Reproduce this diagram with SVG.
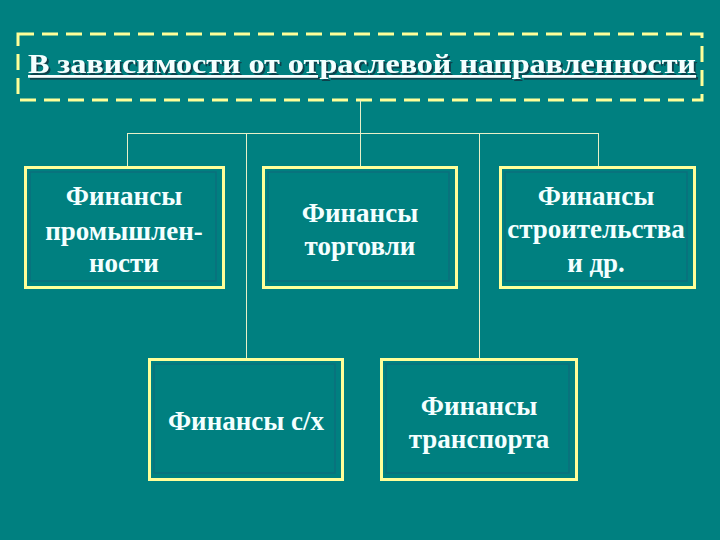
<svg xmlns="http://www.w3.org/2000/svg" width="720" height="540" viewBox="0 0 720 540">
<defs>
<filter id="shadow" x="-5%" y="-30%" width="110%" height="160%">
<feDropShadow dx="2" dy="2" stdDeviation="0.5" flood-color="#0a3a45" flood-opacity="0.9"/>
</filter>
</defs>
<style>
.bg{fill:#008080}
.box{fill:#008080;stroke:#FFFF99;stroke-width:3}
.inner{fill:none;stroke:#0b6f7c;stroke-width:1.5}
.t{font-family:"Liberation Serif","Times New Roman",serif;font-weight:bold;font-size:27px;fill:#F4FFFF;text-anchor:middle}
.ln{stroke:#E8F0C8;stroke-width:1;fill:none}
</style>
<rect class="bg" x="0" y="0" width="720" height="540"/>
<g id="title">
<rect x="18" y="34" width="684" height="66" fill="none" stroke="#FFFF99" stroke-width="3" stroke-dasharray="16,8"/>
<text x="362" y="73" class="t" font-size="29" textLength="668" lengthAdjust="spacingAndGlyphs" text-decoration="underline" filter="url(#shadow)">В зависимости от отраслевой направленности</text>
</g>
<g id="connectors">
<path class="ln" d="M360.5 100V167 M127.5 133.5H598.5 M127.5 133V167 M598.5 133V167 M246.5 133V359 M479.5 133V359"/>
</g>
<g id="n1">
<rect class="box" x="25.5" y="167.5" width="198" height="120"/>
<rect class="inner" x="30" y="172" width="186" height="109"/>
<text class="t" x="124" y="205">Финансы</text>
<text class="t" x="124" y="240">промышлен-</text>
<text class="t" x="124" y="272">ности</text>
</g>
<g id="n2">
<rect class="box" x="263.5" y="167.5" width="193" height="120"/>
<rect class="inner" x="268" y="172" width="181" height="109"/>
<text class="t" x="360" y="222">Финансы</text>
<text class="t" x="360" y="255">торговли</text>
</g>
<g id="n3">
<rect class="box" x="500.5" y="167.5" width="194" height="120"/>
<rect class="inner" x="505" y="172" width="182" height="109"/>
<text class="t" x="596" y="205">Финансы</text>
<text class="t" x="596" y="238">строительства</text>
<text class="t" x="596" y="272">и др.</text>
</g>
<g id="n4">
<rect class="box" x="149.5" y="359.5" width="193" height="120"/>
<rect class="inner" x="154" y="364" width="181" height="109"/>
<text class="t" x="246" y="430">Финансы с/х</text>
</g>
<g id="n5">
<rect class="box" x="381.5" y="359.5" width="195" height="120"/>
<rect class="inner" x="386" y="364" width="183" height="109"/>
<text class="t" x="479" y="415">Финансы</text>
<text class="t" x="479" y="448">транспорта</text>
</g>
</svg>
